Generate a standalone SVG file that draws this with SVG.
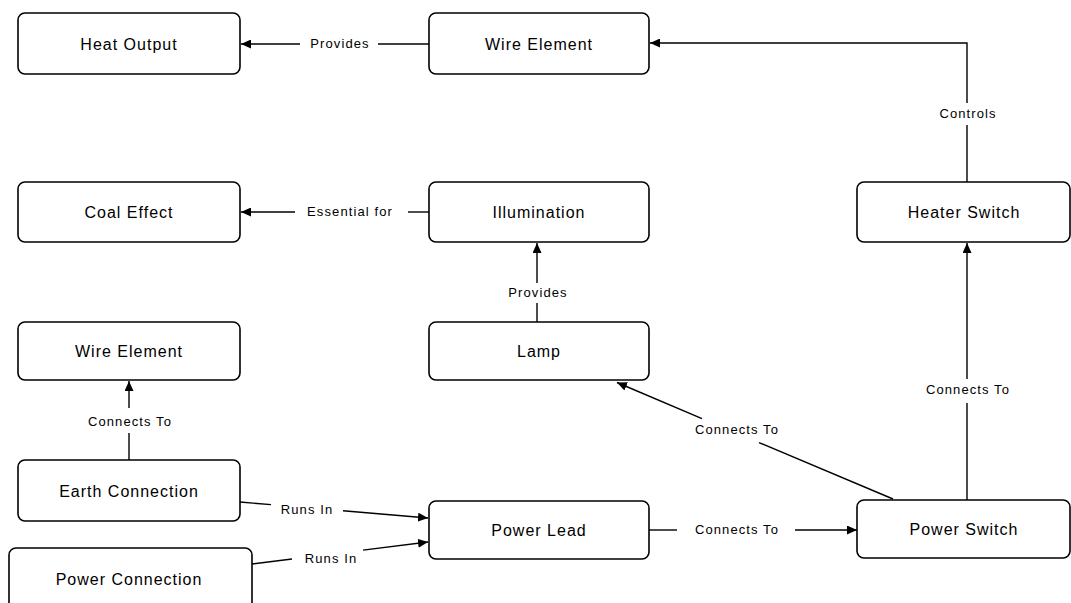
<svg xmlns="http://www.w3.org/2000/svg" width="1071" height="603" viewBox="0 0 1071 603">
<defs>
<marker id="arr" markerUnits="userSpaceOnUse" markerWidth="11" markerHeight="9" refX="10" refY="4.5" orient="auto">
<path d="M0,0 L10,4.5 L0,9 z" fill="#000"/>
</marker>
<style>
.box{fill:#fff;stroke:#000;stroke-width:1.6}
.nt{font-family:"Liberation Sans",Arial,sans-serif;font-size:16px;letter-spacing:1px;text-anchor:middle;fill:#000}
.el{font-family:"Liberation Sans",Arial,sans-serif;font-size:13px;letter-spacing:1.1px;text-anchor:middle;fill:#000}
.ln{fill:none;stroke:#000;stroke-width:1.4}
.ah{marker-end:url(#arr)}
</style>
</defs>
<rect width="1071" height="603" fill="#fff"/>
<g id="connectors">
<line class="ln" x1="429" y1="44" x2="378" y2="44"/>
<line class="ln ah" x1="300" y1="44" x2="241" y2="44"/>
<text class="el" x="340" y="48">Provides</text>
<line class="ln" x1="429" y1="212" x2="408" y2="212"/>
<line class="ln ah" x1="295" y1="212" x2="241" y2="212"/>
<text class="el" x="350" y="216">Essential for</text>
<line class="ln" x1="967" y1="182" x2="967" y2="125"/>
<polyline class="ln ah" points="967,103 967,43 650,43"/>
<text class="el" x="968" y="118">Controls</text>
<line class="ln" x1="537" y1="322" x2="537" y2="303"/>
<line class="ln ah" x1="537" y1="283" x2="537" y2="243"/>
<text class="el" x="538" y="297">Provides</text>
<line class="ln" x1="129" y1="460" x2="129" y2="433"/>
<line class="ln ah" x1="129" y1="408" x2="129" y2="381"/>
<text class="el" x="130" y="426">Connects To</text>
<line class="ln" x1="240" y1="502" x2="271" y2="504.6"/>
<line class="ln ah" x1="343" y1="510.8" x2="428" y2="518"/>
<text class="el" x="307" y="514">Runs In</text>
<line class="ln" x1="252" y1="564" x2="292" y2="559"/>
<line class="ln ah" x1="363" y1="550.1" x2="428" y2="542"/>
<text class="el" x="331" y="563">Runs In</text>
<line class="ln" x1="649" y1="530" x2="677" y2="530"/>
<line class="ln ah" x1="795" y1="530" x2="857" y2="530"/>
<text class="el" x="737" y="534">Connects To</text>
<line class="ln" x1="893" y1="499" x2="759" y2="442.6"/>
<line class="ln ah" x1="702" y1="418.7" x2="617" y2="382.5"/>
<text class="el" x="737" y="434">Connects To</text>
<line class="ln" x1="967" y1="500" x2="967" y2="403"/>
<line class="ln ah" x1="967" y1="379" x2="967" y2="243"/>
<text class="el" x="968" y="394">Connects To</text>
</g>
<g id="heat-output"><rect class="box" x="18" y="13" width="222" height="61" rx="7"/><text class="nt" x="129" y="50">Heat Output</text></g>
<g id="wire-element-top"><rect class="box" x="429" y="13" width="220" height="61" rx="7"/><text class="nt" x="539" y="50">Wire Element</text></g>
<g id="coal-effect"><rect class="box" x="18" y="182" width="222" height="60" rx="7"/><text class="nt" x="129" y="218">Coal Effect</text></g>
<g id="illumination"><rect class="box" x="429" y="182" width="220" height="60" rx="7"/><text class="nt" x="539" y="218">Illumination</text></g>
<g id="heater-switch"><rect class="box" x="857" y="182" width="213" height="60" rx="7"/><text class="nt" x="964" y="218">Heater Switch</text></g>
<g id="wire-element-left"><rect class="box" x="18" y="322" width="222" height="58" rx="7"/><text class="nt" x="129" y="357">Wire Element</text></g>
<g id="lamp"><rect class="box" x="429" y="322" width="220" height="58" rx="7"/><text class="nt" x="539" y="357">Lamp</text></g>
<g id="earth-connection"><rect class="box" x="18" y="460" width="222" height="61" rx="7"/><text class="nt" x="129" y="497">Earth Connection</text></g>
<g id="power-lead"><rect class="box" x="429" y="501" width="220" height="58" rx="7"/><text class="nt" x="539" y="536">Power Lead</text></g>
<g id="power-switch"><rect class="box" x="857" y="500" width="213" height="58" rx="7"/><text class="nt" x="964" y="535">Power Switch</text></g>
<g id="power-connection"><rect class="box" x="9" y="548" width="243" height="62" rx="7"/><text class="nt" x="129" y="585">Power Connection</text></g>
</svg>
